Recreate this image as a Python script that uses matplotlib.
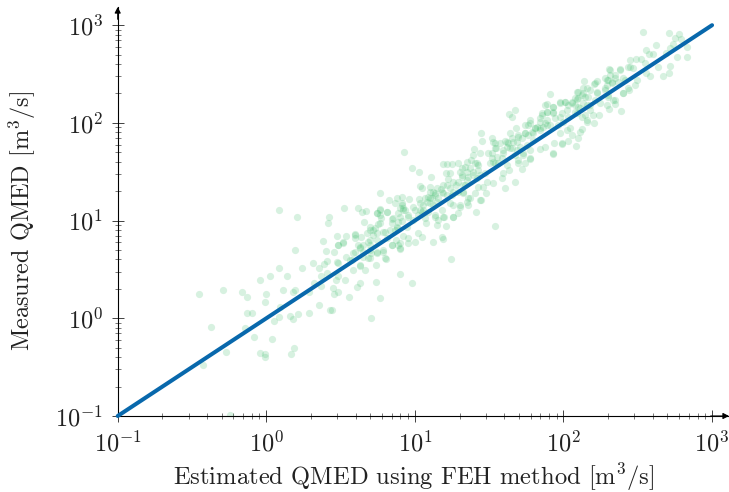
import matplotlib
matplotlib.use('Agg')
import matplotlib.pyplot as plt
from matplotlib.ticker import LogLocator, NullFormatter
import numpy as np

plt.rcParams['font.family'] = ['cmr10', 'DejaVu Serif']
plt.rcParams['mathtext.fontset'] = 'cm'
plt.rcParams['axes.formatter.use_mathtext'] = True

# log10 of (estimated, measured) QMED
low_x = [.085,.204,.424,.413,.379,.19,.40,.316,.41,.388,.354,.087,.24,.137,.025,-.04,.365,.408,.32,.365,
         -.455,-.289,-.164,-.13,-.002,-.009,.11,.179,.193,.289,.092,.354,-.132,-.094,.083,.052,.161,.177,.211,.287,
         -.372,-.144,-.085,.038,-.269,-.04,-.009,-.009,.184,.168,-.424,-.244,.43]
low_y = [1.11,1.04,1.04,.973,.788,.70,.69,.57,.587,.56,.519,.515,.519,.437,.43,.389,.437,.46,.358,.331,
         .253,.29,.27,.215,.249,.167,.287,.266,.29,.266,.113,.133,.055,.055,.014,-.027,.027,-.01,.044,.055,
         -.089,-.102,-.188,-.208,-.341,-.352,-.365,-.396,-.307,-.362,-.474,-.99,.089]

mid_x = [.928,1.444,1.451,1.516,1.538,1.397,1.392,1.437,1.493,1.516,1.549,1.504,1.538,
         1.186,1.213,1.253,1.291,1.348,1.381,1.415,.981,1.028,1.108,1.209,1.235,1.224,1.314,1.348,1.314,1.348,1.392,1.426,1.471,1.415,
         1.527,1.482,1.46,1.478,1.446,1.404,1.359,1.325,1.28,1.258,1.213,1.179,1.146,1.123,1.101,1.034,1.045,
         .762,.825,.877,.915,.962,1.027,1.067,1.09,1.135,.91,.899,.922,.865,.99,1.056,1.101,1.045,
         .614,.67,.646,.525,.765,.809,.747,.771,.753,.657,.843,.888,.955,.989,1.078,1.135,1.157,1.195,1.15,1.209,1.258,1.287,1.408,1.536,
         1.303,1.348,1.258,.697,.72,.787,.832,.877,.596,.596,.637,.538,.475,.675,.742,1.022,1.045,.955,.922,.999,.955,.899,.843,.888,.872,
         1.184,1.186,1.121,.518,.484,.455,.619,.63,.697,.652,.585,.697,.742,.787,.899,.536,.484,.63,.581,.664,.697,.738,.803,
         1.244,.897,.484,.529,.469,.63,.612,.738,.982,.446,.455,.48,.558,.765,.442,.704]
mid_y = [1.705,1.893,1.814,1.845,1.79,1.732,1.671,1.695,1.688,1.637,1.739,1.586,1.586,
         1.582,1.575,1.575,1.586,1.603,1.62,1.586,1.538,1.5,1.446,1.49,1.483,1.429,1.534,1.5,1.466,1.415,1.5,1.517,1.483,1.432,
         1.381,1.398,1.347,1.279,1.214,1.279,1.227,1.296,1.364,1.398,1.364,1.32,1.33,1.296,1.347,1.354,1.337,
         1.285,1.214,1.234,1.244,1.217,1.217,1.227,1.244,1.261,1.159,1.125,1.108,1.176,1.142,1.159,1.176,1.091,
         1.132,1.101,1.084,1.132,1.115,1.091,1.074,1.023,.965,.982,1.012,.988,1.04,1.005,.971,1.033,1.005,1.036,.958,.947,1.036,1.081,1.091,.941,
         1.159,1.193,1.159,.937,.903,.886,.903,.92,.862,.818,.835,.845,.845,.869,.869,.869,.828,.818,.842,.784,.773,.767,.75,.75,.801,
         .835,.814,.78,.767,.75,.681,.75,.715,.75,.681,.671,.698,.664,.681,.705,.627,.569,.534,.494,.494,.613,.545,.606,
         .606,.453,.436,.391,.391,.357,.323,.371,.364,.313,.248,.265,.22,.203,.084,.005]

high_x = [2.533,2.71,2.779,2.79,2.75,2.625,2.734,2.716,2.831,2.555,2.575,2.604,2.69,2.761,2.829,2.447,2.488,2.519,2.548,2.436,2.47,2.38,2.308,
          2.634,2.716,2.712,2.669,2.58,2.553,2.313,2.279,2.347,2.403,2.14,2.223,2.205,2.29,2.156,2.10,1.909,2.443,2.481,2.398,2.279,2.223,2.347,2.302,
          2.055,2.089,2.145,2.01,1.977,1.887,1.932,2.246,2.29,2.347,2.385,2.308,1.674,1.636,1.654,1.887,1.853,1.775,1.764,1.842,1.932,1.977,2.021,
          2.077,2.122,2.178,2.237,2.205,2.156,2.122,2.1,2.111,2.055,2.044,2.082,2.033,1.988,1.938,1.932,1.84,1.876,1.842,1.797,1.681,1.64,1.696,1.607,
          1.663,1.764,1.909,1.977,1.775,1.775,1.73,1.696,1.719,1.636,1.674,1.604,1.584,1.595,1.741,1.618,1.685,1.82,1.876]
high_y = [2.934,2.92,2.91,2.859,2.866,2.801,2.804,2.763,2.777,2.746,2.702,2.702,2.712,2.678,2.678,2.644,2.654,2.651,2.61,2.576,2.559,2.548,2.548,
          2.576,2.583,2.514,2.484,2.484,2.508,2.49,2.456,2.456,2.456,2.429,2.429,2.398,2.388,2.361,2.32,2.3,2.337,2.388,2.303,2.337,2.303,2.234,2.286,
          2.2,2.241,2.269,2.217,2.211,2.19,2.166,2.2,2.183,2.194,2.125,2.142,2.129,2.091,2.06,2.115,2.098,2.03,1.978,2.047,2.098,2.064,2.132,
          2.115,2.064,2.132,2.081,2.002,2.03,1.941,1.845,1.91,1.876,1.944,1.76,1.815,1.787,1.798,1.682,1.733,1.757,1.927,1.893,1.951,1.893,1.859,1.818,
          1.808,1.876,1.978,1.893,1.723,1.63,1.688,1.593,1.528,1.518,1.395,1.333,1.432,1.484,1.586,1.757,1.723,1.961,1.996]

# second pass over the dense part of the band
band_x = [.698,.732,.765,.799,.844,.877,.911,.889,.922,.956,.911,.866,.844,.900,.720,.687,.631,.597,.653,.687,.743,.788,.799,.564,.631,.474,.519,.485,.597,.765,.810,.743,.945,.855,.765,
          1.303,1.337,1.315,1.371,1.404,1.427,1.359,1.292,1.337,1.393,1.438,1.427,1.236,1.191,1.102,1.135,1.180,1.214,1.113,1.079,1.034,1.158,1.124,1.247,1.292,1.326,1.371,1.438,1.0,1.023,1.057,1.090,1.135,1.191,1.180,1.236,1.258,1.303,1.359,1.068,
          1.875,1.931,1.976,2.01,1.886,1.853,1.931,1.987,1.841,1.886,1.942,1.774,1.74,1.808,1.785,1.841,1.886,1.74,1.696,1.651,1.684,1.617,1.572,1.527,1.539,1.595,1.64,1.707,1.673,1.752,1.55,1.516,1.583,1.796,2.021,1.987,1.931,1.774,1.696,1.729,1.617,1.561,1.523,
          2.313,2.347,2.302,2.324,2.279,2.369,2.414,2.436,2.403,2.335,2.302,2.212,2.223,2.179,2.134,2.089,2.122,2.078,2.167,2.212,2.134,2.078,2.179,2.089,2.145,2.201,2.156,2.055,2.38,2.448,2.492,
          1.808,1.864,1.741,1.719,2.033,2.1,2.033,2.0,1.965,2.111,2.156,2.134,2.1,2.29,2.324,1.629,1.651,1.595,
          .899,.933,1.034,1.101,1.146,1.19,1.258,1.325,.697,.742,.809,.652,.574,.708]
band_y = [.904,.921,.972,.887,.972,.938,.996,1.074,1.125,1.057,1.177,.904,.75,.716,.852,.784,.733,.682,.631,.614,.682,.699,.614,.596,.545,.579,.784,.75,.852,1.057,1.091,1.074,.938,1.023,1.108,
          1.5,1.552,1.449,1.535,1.586,1.569,1.449,1.398,1.364,1.466,1.466,1.347,1.33,1.364,1.296,1.279,1.296,1.261,1.227,1.193,1.176,1.227,1.159,1.261,1.296,1.279,1.227,1.21,1.108,1.057,1.108,1.091,1.057,1.033,1.108,1.176,1.04,1.142,1.159,1.023,
          2.183,2.166,2.2,2.217,2.115,2.081,2.115,2.098,2.013,2.03,2.047,1.996,1.979,1.944,1.91,1.944,1.979,1.893,1.876,1.842,1.808,1.808,1.791,1.808,1.74,1.723,1.74,1.757,1.671,1.774,1.654,1.689,1.637,1.825,1.927,1.791,1.688,1.637,1.62,1.671,1.569,1.586,1.603,
          2.542,2.49,2.439,2.405,2.354,2.422,2.439,2.354,2.303,2.234,2.269,2.405,2.32,2.337,2.354,2.32,2.286,2.252,2.269,2.234,2.2,2.183,2.183,2.098,2.081,2.081,2.013,2.217,2.542,2.576,2.439,
          1.944,1.961,1.9,1.842,2.183,2.166,2.064,2.013,1.978,2.149,2.183,2.303,2.252,2.439,2.422,1.791,1.74,1.688,
          1.04,1.108,1.108,1.227,1.193,1.279,1.296,1.364,.801,.801,.818,.75,.596,.664]

line_ends = [0.1, 1000]
tick_values = [0.1, 1, 10, 100, 1000]
tick_labels = [r'$10^{-1}$', r'$10^{0}$', r'$10^{1}$', r'$10^{2}$', r'$10^{3}$']
xlabel = 'Estimated QMED using FEH method [m$^3$/s]'
ylabel = 'Measured QMED [m$^3$/s]'

x = 10 ** np.array(low_x + mid_x + high_x + band_x)
y = 10 ** np.array(low_y + mid_y + high_y + band_y)

fig = plt.figure(figsize=(7.29, 4.92), dpi=100)
ax = fig.add_axes([117.7 / 729, 76 / 492, 611.3 / 729, 409 / 492])

ax.scatter(x, y, s=27, color='#38bb68', alpha=0.2, linewidths=0, zorder=2)
ax.plot(line_ends, line_ends, color='#0868ac', lw=2.9, solid_capstyle='round', zorder=3, clip_on=False)

ax.set_xscale('log')
ax.set_yscale('log')

for axis in (ax.xaxis, ax.yaxis):
    axis.set_minor_locator(LogLocator(base=10, subs=np.arange(2, 10), numticks=10))
    axis.set_minor_formatter(NullFormatter())
ax.set_xticks(tick_values, tick_labels)
ax.set_yticks(tick_values, tick_labels)
ax.tick_params(which='major', direction='inout', length=9, width=0.6, labelsize=17.5, color='#222222', labelcolor='#222222', pad=6)
ax.tick_params(which='minor', direction='inout', length=5, width=0.5, color='#444444')
ax.set_xlim(0.1, 1300)
ax.set_ylim(0.1, 1535)

for side in ('top', 'right'):
    ax.spines[side].set_visible(False)
for side in ('left', 'bottom'):
    ax.spines[side].set_linewidth(0.8)

# arrow heads at the ends of the axes
arrow = dict(arrowstyle='-|>,head_length=0.35,head_width=0.18', color='k', lw=0.8, shrinkA=0, shrinkB=0)
ax.annotate('', xy=(1, 0), xytext=(0.97, 0), xycoords='axes fraction', arrowprops=arrow)
ax.annotate('', xy=(0, 1), xytext=(0, 0.97), xycoords='axes fraction', arrowprops=arrow)

fig.text(414 / 729, 7 / 492, xlabel, ha='center', va='baseline', fontsize=17.7, color='#222222')
fig.text(22 / 729, 271 / 492, ylabel, ha='center', va='center', rotation=90, fontsize=17.5, color='#222222')

fig.savefig('out.png', dpi=100)
